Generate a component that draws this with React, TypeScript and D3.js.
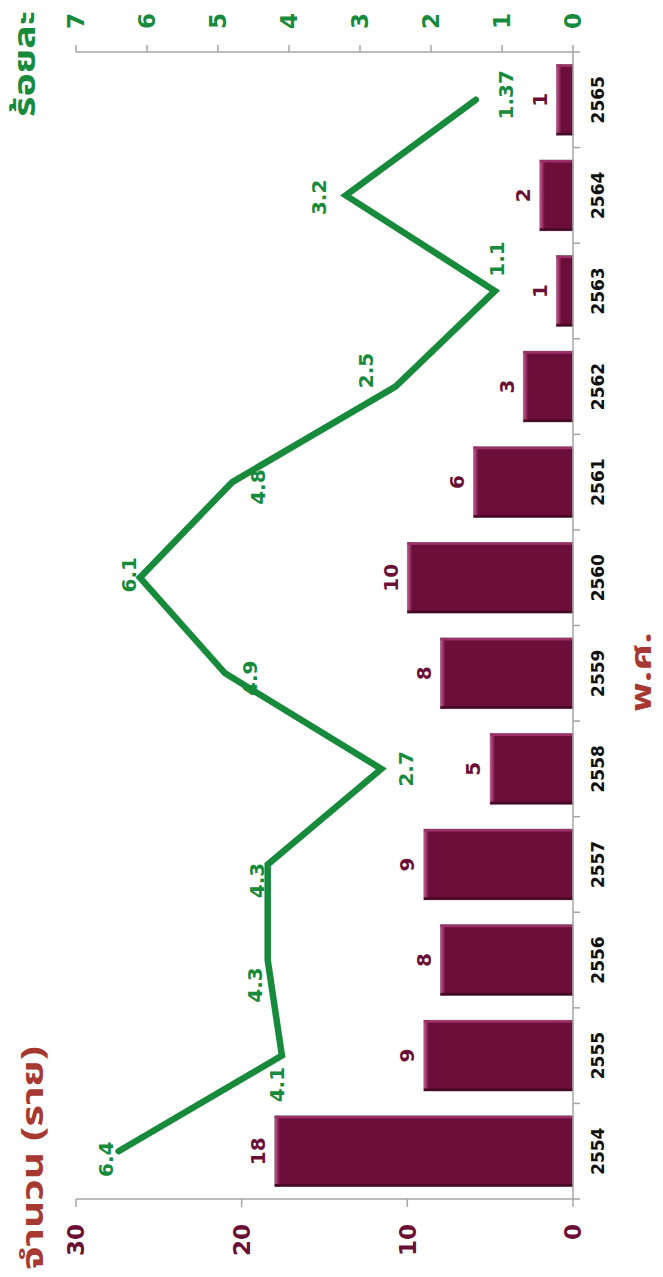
import React from 'react';
import * as d3 from 'd3';

const years = ['2554','2555','2556','2557','2558','2559','2560','2561','2562','2563','2564','2565'];
const counts = [18, 9, 8, 9, 5, 8, 10, 6, 3, 1, 2, 1];
const percents = [6.4, 4.1, 4.3, 4.3, 2.7, 4.9, 6.1, 4.8, 2.5, 1.1, 3.2, 1.37];
const percentLabels = ['6.4','4.1','4.3','4.3','2.7','4.9','6.1','4.8','2.5','1.1','3.2','1.37'];
const countTicks = [0, 10, 20, 30];
const percentTicks = [0, 1, 2, 3, 4, 5, 6, 7];
const countTitle = 'จำนวน (ราย)';
const percentTitle = 'ร้อยละ';
const yearTitle = 'พ.ศ.';

// screen offsets of the line labels from their points
const lineLabelOffsets: [number, number][] = [
  [-13, 8], [-5, 29], [-13, 25], [-11, 16], [24, 0], [25, 5],
  [-11, -3], [26, 5], [-30, -16], [2, -32], [-27, 2], [30, -5],
];

const W = 663, H = 1277;
const NUM_FONT = '"DejaVu Sans", Verdana, sans-serif';
const THAI_FONT = '"Noto Sans Thai", "Noto Sans Thai UI", Tahoma, "Noto Sans", sans-serif';
const GREEN = '#178A3C';
const MAROON = '#6A0F35';
const BRICK = '#A63A33';
const AXIS = '#A6A6A6';

function RText(props: { x: number; y: number; anchor?: string; size: number; fill: string; font?: string; children: React.ReactNode; len?: number }) {
  const { x, y, anchor = 'middle', size, fill, font = NUM_FONT, children, len } = props;
  return (
    <text
      transform={`translate(${x},${y}) rotate(-90)`}
      textAnchor={anchor}
      dy="0.36em"
      fontSize={size}
      fontWeight="bold"
      fontFamily={font}
      fill={fill}
      {...(len ? { textLength: len, lengthAdjust: 'spacingAndGlyphs' } : {})}
    >
      {children}
    </text>
  );
}

export default function App() {
  const y = d3.scaleBand<string>().domain(years).range([1199, 52]).paddingInner(0.26).paddingOuter(0.13);
  const xc = d3.scaleLinear().domain([0, 30]).range([573, 76]);
  const xp = d3.scaleLinear().domain([0, 7]).range([573, 76]);
  const bw = y.bandwidth();
  const cy = (i: number) => (y(years[i]) as number) + bw / 2;
  const line = d3.line<number>().x(d => xp(d)).y((_, i) => cy(i));
  const [r0, r1] = y.range();
  const step = y.step();
  const boundaries = d3.range(years.length + 1).map(i => r0 - i * step);
  const x0 = xc(0);
  const xTop = xc(30);

  return (
    <svg width={W} height={H} style={{ position: 'absolute', left: 0, top: 0, background: '#fff' }}>
      <defs>
        <linearGradient id="barEdge" x1="0" x2="1" y1="0" y2="0">
          <stop offset="0" stopColor="#C45A92" />
          <stop offset="1" stopColor="#6C0E3A" />
        </linearGradient>
      </defs>
      <rect x={0} y={0} width={W} height={H} fill="#fff" />

      {/* percent axis (top) */}
      <line x1={xTop} x2={x0} y1={52} y2={52} stroke={AXIS} strokeWidth={1.5} />
      {percentTicks.map(t => (
        <line key={'pt' + t} x1={xp(t)} x2={xp(t)} y1={45} y2={52} stroke={AXIS} strokeWidth={1.5} />
      ))}
      {percentTicks.map(t => (
        <RText key={'pl' + t} x={xp(t)} y={29} anchor="start" size={23} fill={GREEN}>{t}</RText>
      ))}

      {/* count axis (bottom) */}
      <line x1={xTop} x2={x0} y1={r0} y2={r0} stroke={AXIS} strokeWidth={1.5} />
      {countTicks.map(t => (
        <line key={'ct' + t} x1={xc(t)} x2={xc(t)} y1={r0} y2={r0 + 8} stroke={AXIS} strokeWidth={1.5} />
      ))}
      {countTicks.map(t => (
        <RText key={'cl' + t} x={xc(t)} y={1224} anchor="end" size={23} fill={MAROON}>{t}</RText>
      ))}

      {/* bars */}
      {counts.map((v, i) => {
        const by = y(years[i]) as number;
        const bx = xc(v);
        const w = x0 - bx;
        return (
          <g key={'b' + i}>
            <rect x={bx} y={by} width={w} height={bw} fill="#6C0E3A" stroke="#8E8E8E" strokeWidth={0.8} />
            <rect x={bx} y={by} width={Math.min(5, w)} height={bw} fill="url(#barEdge)" />
            <rect x={bx} y={by} width={w} height={2.5} fill="#9C3068" />
            <rect x={bx} y={by + bw - 2.5} width={w} height={2.5} fill="#470725" />
          </g>
        );
      })}

      {/* category axis */}
      <line x1={x0} x2={x0} y1={r1} y2={r0} stroke={AXIS} strokeWidth={1.5} />
      {boundaries.map((b, i) => (
        <line key={'bt' + i} x1={x0} x2={x0 + 7} y1={b} y2={b} stroke={AXIS} strokeWidth={1.5} />
      ))}
      {years.map((yr, i) => (
        <RText key={'yl' + i} x={598} y={cy(i)} size={17} fill="#111">{yr}</RText>
      ))}

      {/* bar value labels */}
      {counts.map((v, i) => (
        <RText key={'bl' + i} x={xc(v) - 17} y={cy(i)} size={20} fill={MAROON}>{v}</RText>
      ))}

      {/* line */}
      <path d={line(percents) || ''} fill="none" stroke={GREEN} strokeWidth={6.5} strokeLinejoin="miter" strokeLinecap="round" />
      {percents.map((v, i) => (
        <RText key={'ll' + i} x={xp(v) + lineLabelOffsets[i][0]} y={cy(i) + lineLabelOffsets[i][1]} size={20} fill={GREEN}>
          {percentLabels[i]}
        </RText>
      ))}

      {/* titles */}
      <RText x={24} y={117} anchor="start" size={30} fill={GREEN} font={THAI_FONT} len={106}>{percentTitle}</RText>
      <RText x={32} y={1270} anchor="start" size={30} fill={BRICK} font={THAI_FONT} len={224}>{countTitle}</RText>
      <RText x={641} y={712} anchor="start" size={29} fill={BRICK} font={THAI_FONT} len={80}>{yearTitle}</RText>
    </svg>
  );
}
